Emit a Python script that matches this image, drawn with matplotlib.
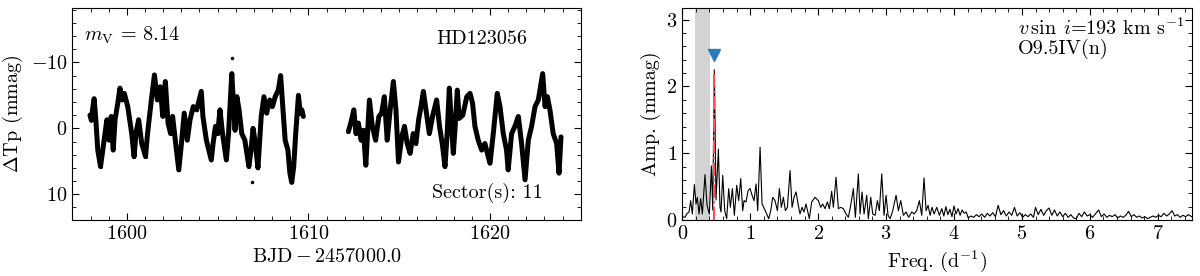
import matplotlib
matplotlib.use("Agg")
import matplotlib.pyplot as plt
from matplotlib.ticker import MultipleLocator

plt.rcParams['font.family'] = 'serif'
plt.rcParams['font.serif'] = ['cmr10', 'DejaVu Serif']
plt.rcParams['mathtext.fontset'] = 'cm'
plt.rcParams['axes.formatter.use_mathtext'] = True
plt.rcParams['axes.unicode_minus'] = False

# light curve, sector 11 (BJD - 2457000, dTp in mmag)
t_seg1 = [1597.97, 1598.05, 1598.12, 1598.20, 1598.30, 1598.40, 1598.55, 1598.70,
          1598.90, 1599.02, 1599.14, 1599.25, 1599.35, 1599.50, 1599.62, 1599.75,
          1599.86, 1600.05, 1600.27, 1600.40, 1600.50, 1600.65, 1600.82, 1601.03,
          1601.14, 1601.35, 1601.52, 1601.68, 1601.84, 1601.98, 1602.12, 1602.27,
          1602.41, 1602.52, 1602.69, 1602.86, 1602.99, 1603.16, 1603.33, 1603.48,
          1603.66, 1603.85, 1604.10, 1604.19, 1604.38, 1604.65, 1604.75, 1604.88,
          1605.00, 1605.13, 1605.27, 1605.48, 1605.60, 1605.78, 1605.86, 1605.96,
          1606.06, 1606.18, 1606.33, 1606.50, 1606.72, 1606.84, 1606.95, 1607.08,
          1607.22, 1607.40, 1607.55, 1607.70, 1607.87, 1608.02, 1608.17, 1608.34,
          1608.47, 1608.60, 1608.72, 1608.87, 1608.98, 1609.08, 1609.19, 1609.30,
          1609.45, 1609.55, 1609.64, 1609.72]
dm_seg1 = [-2.0, -1.2, -3.0, -4.5, -1.0, 3.3, 5.8, 2.8,
           -1.3, 1.8, -1.8, 3.3, -1.3, -3.8, -6.1, -4.3,
           -5.3, -3.3, 0.8, 4.3, 0.8, -1.3, 2.3, 4.3,
           0.8, -4.3, -8.1, -4.3, -6.3, -1.8, -7.1, -0.8,
           0.8, -1.8, 2.3, 6.3, 2.8, -2.3, 1.8, -1.3,
           -3.3, -2.8, -5.6, -1.8, 1.8, 4.8, 2.3, -0.3,
           0.8, -2.8, 0.8, 4.8, 0.8, -8.3, -4.3, 0.3,
           -4.8, -2.8, 0.8, 1.8, 5.8, 3.3, 0.0, 2.3,
           6.0, -1.8, -4.8, -2.3, -4.3, -3.3, -4.8, -5.8,
           -8.0, -2.8, 1.8, 3.3, 6.8, 8.2, 5.8, 0.8,
           -5.0, -2.3, -2.8, -1.8]

t_seg2 = [1612.20, 1612.35, 1612.50, 1612.62, 1612.75, 1612.90, 1613.03, 1613.16,
          1613.36, 1613.52, 1613.70, 1613.88, 1614.03, 1614.18, 1614.34, 1614.50,
          1614.68, 1614.82, 1614.96, 1615.14, 1615.29, 1615.44, 1615.60, 1615.77,
          1615.92, 1616.07, 1616.20, 1616.33, 1616.50, 1616.66, 1616.85, 1617.06,
          1617.22, 1617.38, 1617.52, 1617.64, 1617.76, 1617.88, 1617.98, 1618.10,
          1618.20, 1618.30, 1618.50, 1618.72, 1618.90, 1619.04, 1619.17, 1619.35,
          1619.54, 1619.72, 1619.90, 1620.00, 1620.18, 1620.40, 1620.55, 1620.73,
          1620.91, 1621.00, 1621.19, 1621.37, 1621.56, 1621.74, 1621.93, 1622.11,
          1622.29, 1622.48, 1622.66, 1622.90, 1623.03, 1623.16, 1623.30, 1623.48,
          1623.67, 1623.80, 1623.91]
dm_seg2 = [0.5, -1.0, -2.8, 0.8, -0.8, 1.8, 0.3, 5.6,
           -4.3, -0.3, 1.8, -1.8, -2.3, -4.8, 1.8, -2.8,
           -7.1, -2.8, 5.1, 1.3, -0.3, 2.3, 3.8, 0.8,
           2.3, -1.3, -3.3, -5.6, -2.3, 0.8, -2.0, -4.3,
           -0.3, 2.5, 5.8, 0.8, -6.1, -0.5, 3.8, -1.0,
           -5.8, -1.5, -2.0, -4.8, -5.3, -3.8, -0.3, 1.8,
           3.3, 2.3, 4.3, 5.3, 0.8, -5.3, -3.3, 0.8,
           3.3, 6.3, 0.8, -0.3, -1.8, 2.3, 7.8, 1.8,
           -0.3, -3.3, -4.3, -8.3, -3.3, -4.8, -2.8, 0.8,
           2.3, 6.8, 1.3]

t_out = [1605.80, 1606.90]
dm_out = [-10.7, 8.1]

# amplitude spectrum (d^-1, mmag)
freq = [0.000, 0.040, 0.064, 0.099, 0.123, 0.148, 0.177, 0.202, 0.221, 0.246,
        0.270, 0.295, 0.334, 0.364, 0.398, 0.428, 0.448, 0.472, 0.496, 0.531,
        0.555, 0.570, 0.595, 0.624, 0.653, 0.683, 0.707, 0.737, 0.766, 0.801,
        0.830, 0.860, 0.889, 0.909, 0.938, 0.968, 0.997, 1.027, 1.056, 1.086,
        1.110, 1.145, 1.174, 1.208, 1.243, 1.272, 1.302, 1.331, 1.365, 1.400,
        1.429, 1.458, 1.488, 1.517, 1.547, 1.586, 1.616, 1.645, 1.675, 1.704,
        1.733, 1.762, 1.791, 1.821, 1.870, 1.905, 1.954, 2.003, 2.037, 2.067,
        2.101, 2.136, 2.165, 2.199, 2.224, 2.263, 2.298, 2.332, 2.371, 2.410,
        2.445, 2.479, 2.518, 2.548, 2.592, 2.617, 2.646, 2.676, 2.715, 2.739,
        2.774, 2.803, 2.838, 2.872, 2.901, 2.936, 2.970, 3.000, 3.029, 3.059,
        3.098, 3.147, 3.181, 3.216, 3.255, 3.294, 3.333, 3.378, 3.412, 3.451,
        3.490, 3.525, 3.559, 3.589, 3.618, 3.648, 3.677, 3.707, 3.746, 3.785,
        3.82, 3.85, 3.88, 3.91, 3.94, 3.97, 4.00, 4.03, 4.06, 4.09,
        4.12, 4.15, 4.18, 4.21, 4.25, 4.29, 4.33, 4.37, 4.41, 4.45,
        4.49, 4.53, 4.57, 4.61, 4.65, 4.69, 4.73, 4.77, 4.81, 4.85,
        4.89, 4.93, 4.97, 5.01, 5.05, 5.09, 5.13, 5.17, 5.20, 5.24,
        5.28, 5.32, 5.36, 5.40, 5.44, 5.48, 5.52, 5.56, 5.60, 5.64,
        5.68, 5.72, 5.76, 5.80, 5.84, 5.88, 5.92, 5.96, 6.00, 6.04,
        6.08, 6.13, 6.17, 6.21, 6.25, 6.29, 6.33, 6.37, 6.41, 6.45,
        6.49, 6.53, 6.57, 6.61, 6.65, 6.69, 6.73, 6.77, 6.81, 6.85,
        6.89, 6.93, 6.97, 7.01, 7.05, 7.09, 7.13, 7.17, 7.21, 7.25,
        7.29, 7.33, 7.37, 7.41, 7.45, 7.50]
amp = [0.05, 0.04, 0.09, 0.12, 0.29, 0.09, 0.53, 0.24, 0.34, 0.09,
       0.32, 0.09, 0.68, 0.22, 0.09, 0.81, 0.15, 2.25, 0.30, 1.06,
       0.19, 0.12, 0.67, 0.14, 0.02, 0.47, 0.19, 0.47, 0.07, 0.52,
       0.29, 0.62, 0.14, 0.29, 0.27, 0.44, 0.47, 0.37, 0.29, 0.54,
       0.14, 1.09, 0.24, 0.17, 0.09, 0.02, 0.14, 0.34, 0.29, 0.14,
       0.47, 0.19, 0.34, 0.14, 0.19, 0.74, 0.19, 0.34, 0.42, 0.24,
       0.09, 0.19, 0.12, 0.24, 0.02, 0.27, 0.34, 0.29, 0.19, 0.24,
       0.17, 0.27, 0.17, 0.43, 0.19, 0.64, 0.17, 0.19, 0.17, 0.09,
       0.04, 0.22, 0.47, 0.04, 0.69, 0.09, 0.42, 0.09, 0.37, 0.02,
       0.34, 0.09, 0.07, 0.29, 0.14, 0.69, 0.07, 0.37, 0.07, 0.02,
       0.14, 0.37, 0.14, 0.29, 0.07, 0.12, 0.04, 0.12, 0.09, 0.14,
       0.29, 0.07, 0.63, 0.14, 0.22, 0.07, 0.19, 0.09, 0.19, 0.07,
       0.17, 0.06, 0.20, 0.08, 0.16, 0.05, 0.21, 0.09, 0.17, 0.07,
       0.15, 0.10, 0.12, 0.03, 0.06, 0.04, 0.08, 0.05, 0.09, 0.04,
       0.10, 0.06, 0.11, 0.05, 0.22, 0.08, 0.14, 0.06, 0.12, 0.07,
       0.19, 0.06, 0.11, 0.04, 0.08, 0.05, 0.09, 0.04, 0.19, 0.08,
       0.16, 0.07, 0.14, 0.18, 0.07, 0.15, 0.06, 0.12, 0.05, 0.10,
       0.04, 0.08, 0.03, 0.02, 0.10, 0.05, 0.12, 0.06, 0.08, 0.04,
       0.09, 0.15, 0.05, 0.09, 0.04, 0.07, 0.05, 0.08, 0.03, 0.06,
       0.04, 0.07, 0.13, 0.05, 0.08, 0.04, 0.06, 0.03, 0.05, 0.02,
       0.04, 0.06, 0.04, 0.07, 0.05, 0.10, 0.06, 0.09, 0.14, 0.06,
       0.08, 0.04, 0.07, 0.05, 0.08, 0.05]

f_peak = 0.472
a_peak = 2.25
span_lo, span_hi = 0.18, 0.405

fig = plt.figure(figsize=(12, 2.76), dpi=100)
ax1 = fig.add_axes([0.0603, 0.2029, 0.4237, 0.767])
ax2 = fig.add_axes([0.5686, 0.2029, 0.4245, 0.767])

# --- light curve ---
for t, dm in [(t_seg1, dm_seg1), (t_seg2, dm_seg2)]:
    ax1.plot(t, dm, color='k', lw=3.6, solid_joinstyle='round', solid_capstyle='round')
    ax1.plot(t, dm, 'k.', ms=2)
ax1.plot(t_out, dm_out, 'k.', ms=3)
ax1.set_xlim(1597, 1625)
ax1.set_ylim(13.9, -18.2)
ax1.xaxis.set_major_locator(MultipleLocator(10))
ax1.xaxis.set_minor_locator(MultipleLocator(1))
ax1.yaxis.set_major_locator(MultipleLocator(10))
ax1.yaxis.set_minor_locator(MultipleLocator(2))
ax1.set_xlabel(r'$\mathrm{BJD} - 2457000.0$', fontsize=14.5)
ax1.set_ylabel(r'$\Delta$Tp (mmag)', fontsize=14.5)
ax1.text(0.022, 0.874, r'$m_{\rm V}$ = 8.14', transform=ax1.transAxes,
         fontsize=14.5, va='center', ha='left')
ax1.text(0.895, 0.854, 'HD123056', transform=ax1.transAxes,
         fontsize=14.5, va='center', ha='right')
ax1.text(0.925, 0.126, 'Sector(s): 11', transform=ax1.transAxes,
         fontsize=14.5, va='center', ha='right')

# --- amplitude spectrum ---
ax2.axvspan(span_lo, span_hi, color='lightgray', lw=0, zorder=0)
ax2.plot(freq, amp, color='k', lw=0.8, zorder=2)
ax2.vlines(f_peak, 0, a_peak, colors='#ff5050', linestyles='-.', lw=1.5, zorder=3)
ax2.plot([f_peak], [a_peak * 1.1], marker='v', color='#2b7bba', ms=9,
         ls='none', zorder=4)
ax2.set_xlim(0, 7.5)
ax2.set_ylim(0, 3.17)
ax2.xaxis.set_major_locator(MultipleLocator(1))
ax2.xaxis.set_minor_locator(MultipleLocator(0.2))
ax2.yaxis.set_major_locator(MultipleLocator(1))
ax2.yaxis.set_minor_locator(MultipleLocator(0.2))
ax2.set_xlabel(r'Freq. (d$^{-1}$)', fontsize=14.5)
ax2.set_ylabel('Amp. (mmag)', fontsize=14.5)
ax2.text(0.658, 0.907, r'$v\,\sin\;i$=193 km s$^{-1}$', transform=ax2.transAxes,
         fontsize=14.5, va='center', ha='left')
ax2.text(0.658, 0.81, 'O9.5IV(n)', transform=ax2.transAxes,
         fontsize=14.5, va='center', ha='left')

for ax in (ax1, ax2):
    ax.tick_params(which='both', direction='in', top=True, right=True, labelsize=14.5)
    ax.tick_params(which='major', length=5)
    ax.tick_params(which='minor', length=3)

fig.savefig('out.png', dpi=100)
